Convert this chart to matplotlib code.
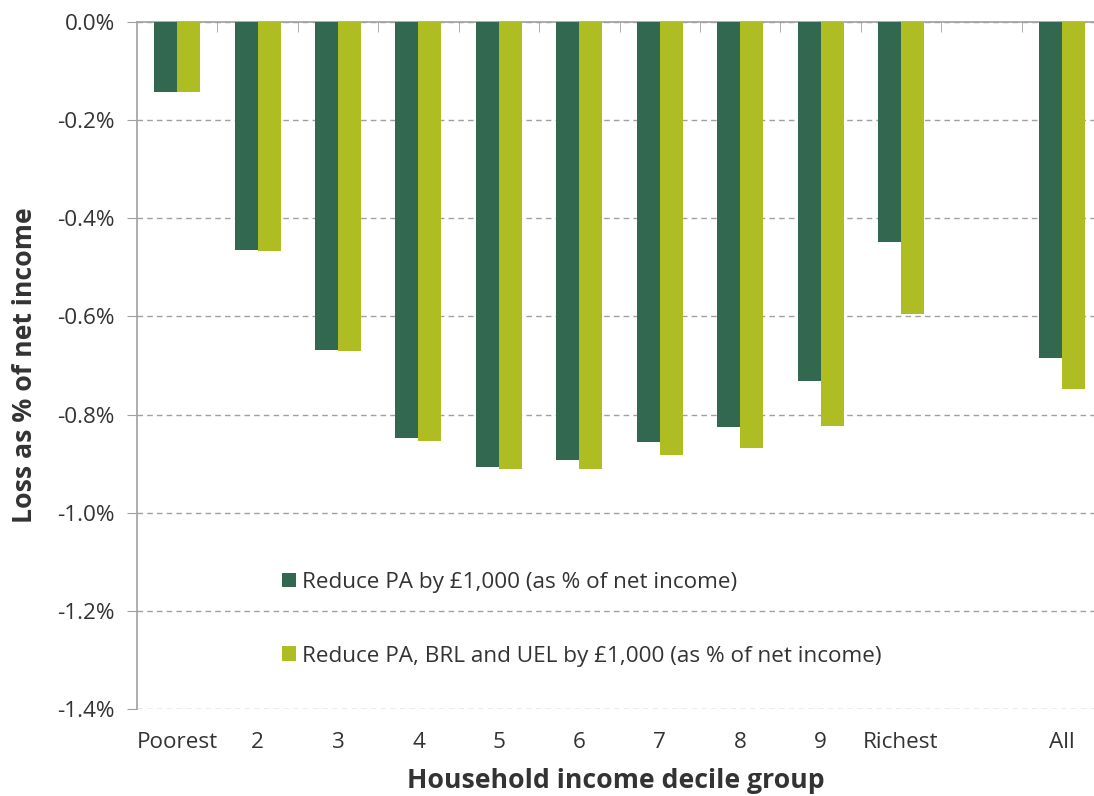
import numpy as np
import matplotlib.pyplot as plt
from matplotlib.ticker import FuncFormatter

plt.rcParams['font.family'] = ['Open Sans', 'DejaVu Sans']

# ---- data ----
groups = ["Poorest", "2", "3", "4", "5", "6", "7", "8", "9", "Richest", "", "All"]
pa_only = [-0.143, -0.465, -0.669, -0.847, -0.906, -0.893, -0.855, -0.825, -0.732, -0.448, np.nan, -0.685]
pa_brl_uel = [-0.143, -0.466, -0.671, -0.853, -0.911, -0.910, -0.882, -0.869, -0.823, -0.596, np.nan, -0.748]
series_names = ["Reduce PA by £1,000 (as % of net income)",
                "Reduce PA, BRL and UEL by £1,000 (as % of net income)"]
y_ticks = [0.0, -0.2, -0.4, -0.6, -0.8, -1.0, -1.2, -1.4]

dark = "#31684f"
light = "#aebd22"
grey = "#a0a0a0"
txt = "#333333"

fig = plt.figure(figsize=(10.94, 7.96), dpi=100)
ax = fig.add_axes([0.1252, 0.1093, 0.8748, 0.8631])

x = np.arange(len(groups))
w = 0.286
ax.bar(x - w / 2, pa_only, width=w, color=dark, label=series_names[0], zorder=3)
ax.bar(x + w / 2, pa_brl_uel, width=w, color=light, label=series_names[1], zorder=3)

ax.set_xlim(-0.5, 11.4)
ax.set_ylim(-1.4, 0.0)
ax.set_yticks(y_ticks)
ax.yaxis.set_major_formatter(FuncFormatter(lambda v, p: f"{v:.1f}%"))
ax.grid(axis='y', color=grey, linestyle=(0, (4, 3)), linewidth=1, zorder=0)

ax.set_xticks(x)
ax.set_xticklabels(groups)
ax.set_xticks(x[:-1] + 0.5, minor=True)
ax.tick_params(axis='x', which='major', length=0, pad=16.5, labelsize=16.2, colors=txt)
ax.tick_params(axis='x', which='minor', top=True, bottom=False, direction='in',
               length=7, color=grey)
ax.tick_params(axis='y', length=7, color=grey, labelsize=16.2, labelcolor=txt, pad=9)

for s in ['right', 'bottom']:
    ax.spines[s].set_visible(False)
for s in ['left', 'top']:
    ax.spines[s].set_color(grey)
    ax.spines[s].set_linewidth(1.2)

ax.set_xlabel("Household income decile group", fontsize=19.2, fontweight='bold',
              color=txt, labelpad=11)
ax.set_ylabel("Loss as % of net income", fontsize=19.2, fontweight='bold',
              color=txt, labelpad=14)

leg = ax.legend(loc='upper left', bbox_to_anchor=(0.142, 0.2125), frameon=False,
                fontsize=16.2, handlelength=0.62, handleheight=0.62,
                handletextpad=0.27, labelspacing=2.34, borderaxespad=0)
for t in leg.get_texts():
    t.set_color(txt)

fig.savefig("out.png", dpi=100)
